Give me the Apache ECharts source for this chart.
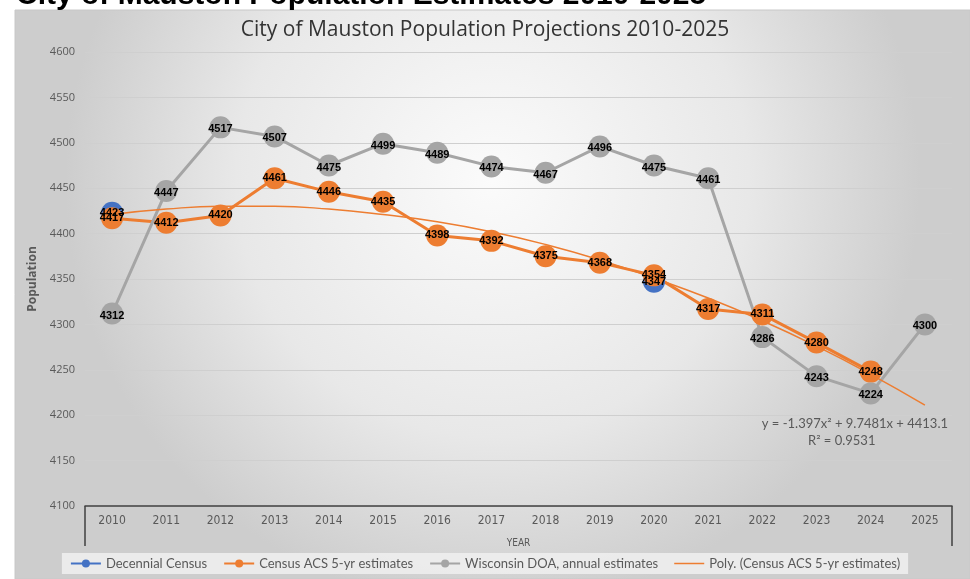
<!DOCTYPE html>
<html>
<head>
<meta charset="utf-8">
<script src="https://cdn.jsdelivr.net/npm/echarts@6/dist/echarts.min.js"></script>
<style>html,body{margin:0;padding:0;background:#fff;}#c{width:970px;height:579px;}</style>
</head>
<body>
<div id="c"></div>
<script>
var years = ['2010','2011','2012','2013','2014','2015','2016','2017','2018','2019','2020','2021','2022','2023','2024','2025'];
var decennial = [4423,null,null,null,null,null,null,null,null,null,4347,null,null,null,null,null];
var acs = [4417,4412,4420,4461,4446,4435,4398,4392,4375,4368,4354,4317,4311,4280,4248,null];
var doa = [4312,4447,4517,4507,4475,4499,4489,4474,4467,4496,4475,4461,4286,4243,4224,4300];
var polyTrend = [4421,4427,4430,4430,4427,4421,4413,4402,4388,4371,4351,4329,4304,4276,4245,4211];
var yTicks = {min:4100, max:4600, interval:50};
var seriesNames = ['Decennial Census','Census ACS 5-yr estimates','Wisconsin DOA, annual estimates','Poly. (Census ACS 5-yr estimates)'];
var pageTitle = 'City of Mauston Population Estimates 2010-2025';
var chartTitle = 'City of Mauston Population Projections 2010-2025';
var trendEq = 'y = -1.397x² + 9.7481x + 4413.1';
var trendR2 = 'R² = 0.9531';

var chart = echarts.init(document.getElementById('c'));
var lbl = {show:true, position:'inside', color:'#000', fontWeight:'bold', fontSize:11, fontFamily:'Liberation Sans'};
function mkLine(name, data, color, extra){
  var s = {
    name:name, type:'line', data:data, symbol:'circle', symbolSize:22,
    lineStyle:{color:color, width:3}, itemStyle:{color:color},
    label:lbl, connectNulls:false, animation:false
  };
  for (var k in extra) s[k] = extra[k];
  return s;
}
var lineIcon = 'path://M0,4.2h30v1.6h-30z M0,0h0.01v0.01h-0.01z M29.99,9.99h0.01v0.01h-0.01z';
var option = {
  animation:false,
  graphic:[
    {type:'text', left:16, top:-19, z:0, style:{text:pageTitle, fill:'#000', font:'bold 30px "Liberation Sans"'}},
    {type:'rect', shape:{x:15, y:10, width:955, height:569}, z:-10,
      style:{fill:new echarts.graphic.RadialGradient(0.5,0.3,0.75,[{offset:0,color:'#fbfbfb'},{offset:0.6,color:'#e8e8e8'},{offset:1,color:'#cdcdcd'}]), stroke:'#c8c8c8', lineWidth:1}},
    {type:'text', right:22, top:417, z:5, style:{text:trendEq, fill:'#595959', font:'13px "Lato"', textAlign:'right'}},
    {type:'text', left:808, top:434, z:5, style:{text:trendR2, fill:'#595959', font:'13px "Lato"'}}
  ],
  title:{text:chartTitle, left:'center', top:15, textStyle:{color:'#333333', fontSize:21, fontWeight:'normal', fontFamily:'Open Sans'}},
  grid:{left:85, right:18, top:52, bottom:73},
  legend:{
    bottom:5, left:'center', backgroundColor:'rgba(240,240,240,0.85)', padding:[4,8],
    itemWidth:30, itemHeight:10, itemGap:16,
    textStyle:{color:'#595959', fontSize:13, fontFamily:'Lato'},
    data:[seriesNames[0], seriesNames[1], seriesNames[2], {name:seriesNames[3], icon:lineIcon}]
  },
  xAxis:[{
    type:'category', data:years, boundaryGap:true,
    axisLine:{show:true, lineStyle:{color:'#404040', width:1.5}},
    axisTick:{show:false},
    axisLabel:{color:'#595959', fontSize:12, fontFamily:'DejaVu Sans Condensed', margin:9},
    name:'YEAR', nameLocation:'middle', nameGap:32,
    nameTextStyle:{color:'#595959', fontSize:10, fontFamily:'DejaVu Sans Condensed'}
  },{
    type:'value', min:0, max:16, interval:16, position:'bottom',
    axisLine:{show:false}, axisLabel:{show:false}, splitLine:{show:false},
    axisTick:{show:true, length:40, lineStyle:{color:'#404040', width:1.5}}
  }],
  yAxis:{
    type:'value', min:yTicks.min, max:yTicks.max, interval:yTicks.interval,
    axisLine:{show:false}, axisTick:{show:false},
    splitLine:{lineStyle:{color:'#cfcfcf', width:1.2}},
    axisLabel:{color:'#595959', fontSize:11, fontFamily:'Open Sans', margin:10, formatter:function(v){return String(v);}},
    name:'Population', nameLocation:'middle', nameGap:30,
    nameTextStyle:{color:'#595959', fontSize:12, fontWeight:'bold', fontFamily:'Open Sans'}
  },
  series:[
    mkLine(seriesNames[0], decennial, '#4472C4', {}),
    mkLine(seriesNames[1], acs, '#ED7D31', {}),
    mkLine(seriesNames[2], doa, '#A5A5A5', {label:{show:true, position:'inside', offset:[0,2], color:'#000', fontWeight:'bold', fontSize:11, fontFamily:'Liberation Sans'}}),
    {name:seriesNames[3], type:'line', data:polyTrend, smooth:true, symbol:'none', showSymbol:false,
      lineStyle:{color:'#ED7D31', width:1.5}, itemStyle:{color:'#ED7D31'}, z:3, animation:false}
  ]
};
chart.setOption(option);
</script>
</body>
</html>
